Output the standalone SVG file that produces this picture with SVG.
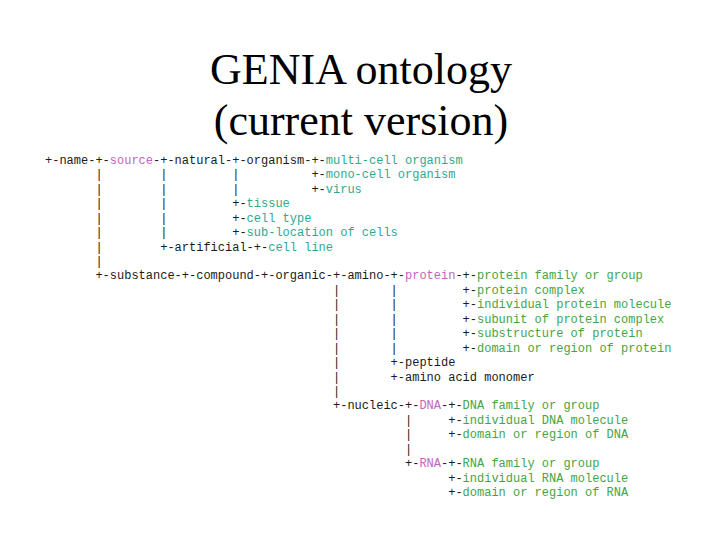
<svg xmlns="http://www.w3.org/2000/svg" width="720" height="540" viewBox="0 0 720 540">
<style>
.title{font-family:"Liberation Serif","Times New Roman",serif;font-size:44px;fill:#000;text-anchor:middle}
.m{font-family:"Liberation Mono","Courier New",monospace;font-size:12px;fill:#1a1a1a}
.p{fill:#c464c0}
.c{fill:#2fa890}
.g{fill:#44a544}
</style>
<rect width="720" height="540" fill="#fff"/>
<g id="title">
<text class="title" x="361" y="84">GENIA ontology</text>
<text class="title" x="361" y="135">(current version)</text>
</g>
<g id="connectors" class="m">
<text y="164"><tspan x="45">+-</tspan><tspan x="88.2">-+-</tspan><tspan x="153">-+-</tspan><tspan x="225">-+-</tspan><tspan x="304.2">-+-</tspan></text>
<text y="178.4"><tspan x="95.4">|</tspan><tspan x="160.2">|</tspan><tspan x="232.2">|</tspan><tspan x="311.4">+-</tspan></text>
<text y="192.9"><tspan x="95.4">|</tspan><tspan x="160.2">|</tspan><tspan x="232.2">|</tspan><tspan x="311.4">+-</tspan></text>
<text y="207.3"><tspan x="95.4">|</tspan><tspan x="160.2">|</tspan><tspan x="232.2">+-</tspan></text>
<text y="221.7"><tspan x="95.4">|</tspan><tspan x="160.2">|</tspan><tspan x="232.2">+-</tspan></text>
<text y="236.2"><tspan x="95.4">|</tspan><tspan x="160.2">|</tspan><tspan x="232.2">+-</tspan></text>
<text y="250.6"><tspan x="95.4">|</tspan><tspan x="160.2">+-</tspan><tspan x="246.6">-+-</tspan></text>
<text y="265"><tspan x="95.4">|</tspan></text>
<text y="279.4"><tspan x="95.4">+-</tspan><tspan x="174.6">-+-</tspan><tspan x="253.8">-+-</tspan><tspan x="325.8">-+-</tspan><tspan x="383.4">-+-</tspan><tspan x="455.4">-+-</tspan></text>
<text y="293.9"><tspan x="333">|</tspan><tspan x="390.6">|</tspan><tspan x="462.6">+-</tspan></text>
<text y="308.3"><tspan x="333">|</tspan><tspan x="390.6">|</tspan><tspan x="462.6">+-</tspan></text>
<text y="322.7"><tspan x="333">|</tspan><tspan x="390.6">|</tspan><tspan x="462.6">+-</tspan></text>
<text y="337.2"><tspan x="333">|</tspan><tspan x="390.6">|</tspan><tspan x="462.6">+-</tspan></text>
<text y="351.6"><tspan x="333">|</tspan><tspan x="390.6">|</tspan><tspan x="462.6">+-</tspan></text>
<text y="366"><tspan x="333">|</tspan><tspan x="390.6">+-</tspan></text>
<text y="380.5"><tspan x="333">|</tspan><tspan x="390.6">+-</tspan></text>
<text y="394.9"><tspan x="333">|</tspan></text>
<text y="409.3"><tspan x="333">+-</tspan><tspan x="397.8">-+-</tspan><tspan x="441">-+-</tspan></text>
<text y="423.7"><tspan x="405">|</tspan><tspan x="448.2">+-</tspan></text>
<text y="438.2"><tspan x="405">|</tspan><tspan x="448.2">+-</tspan></text>
<text y="452.6"><tspan x="405">|</tspan></text>
<text y="467"><tspan x="405">+-</tspan><tspan x="441">-+-</tspan></text>
<text y="481.5"><tspan x="448.2">+-</tspan></text>
<text y="495.9"><tspan x="448.2">+-</tspan></text>
</g>
<g class="m">
<g id="name"><text x="59.4" y="164">name</text></g>
<g id="source"><text class="p" x="109.8" y="164">source</text></g>
<g id="natural"><text x="174.6" y="164">natural</text></g>
<g id="organism"><text x="246.6" y="164">organism</text></g>
<g id="multi-cell-organism"><text class="c" x="325.8" y="164">multi-cell organism</text></g>
<g id="mono-cell-organism"><text class="c" x="325.8" y="178.4">mono-cell organism</text></g>
<g id="virus"><text class="c" x="325.8" y="192.9">virus</text></g>
<g id="tissue"><text class="c" x="246.6" y="207.3">tissue</text></g>
<g id="cell-type"><text class="c" x="246.6" y="221.7">cell type</text></g>
<g id="sub-location"><text class="c" x="246.6" y="236.2">sub-location of cells</text></g>
<g id="artificial"><text x="174.6" y="250.6">artificial</text></g>
<g id="cell-line"><text class="c" x="268.2" y="250.6">cell line</text></g>
<g id="substance"><text x="109.8" y="279.4">substance</text></g>
<g id="compound"><text x="196.2" y="279.4">compound</text></g>
<g id="organic"><text x="275.4" y="279.4">organic</text></g>
<g id="amino"><text x="347.4" y="279.4">amino</text></g>
<g id="protein"><text class="p" x="405" y="279.4">protein</text></g>
<g id="protein-family"><text class="g" x="477" y="279.4">protein family or group</text></g>
<g id="protein-complex"><text class="g" x="477" y="293.9">protein complex</text></g>
<g id="individual-protein"><text class="g" x="477" y="308.3">individual protein molecule</text></g>
<g id="subunit"><text class="g" x="477" y="322.7">subunit of protein complex</text></g>
<g id="substructure"><text class="g" x="477" y="337.2">substructure of protein</text></g>
<g id="domain-protein"><text class="g" x="477" y="351.6">domain or region of protein</text></g>
<g id="peptide"><text x="405" y="366">peptide</text></g>
<g id="amino-acid-monomer"><text x="405" y="380.5">amino acid monomer</text></g>
<g id="nucleic"><text x="347.4" y="409.3">nucleic</text></g>
<g id="DNA"><text class="p" x="419.4" y="409.3">DNA</text></g>
<g id="DNA-family"><text class="g" x="462.6" y="409.3">DNA family or group</text></g>
<g id="individual-DNA"><text class="g" x="462.6" y="423.7">individual DNA molecule</text></g>
<g id="domain-DNA"><text class="g" x="462.6" y="438.2">domain or region of DNA</text></g>
<g id="RNA"><text class="p" x="419.4" y="467">RNA</text></g>
<g id="RNA-family"><text class="g" x="462.6" y="467">RNA family or group</text></g>
<g id="individual-RNA"><text class="g" x="462.6" y="481.5">individual RNA molecule</text></g>
<g id="domain-RNA"><text class="g" x="462.6" y="495.9">domain or region of RNA</text></g>
</g>
</svg>
